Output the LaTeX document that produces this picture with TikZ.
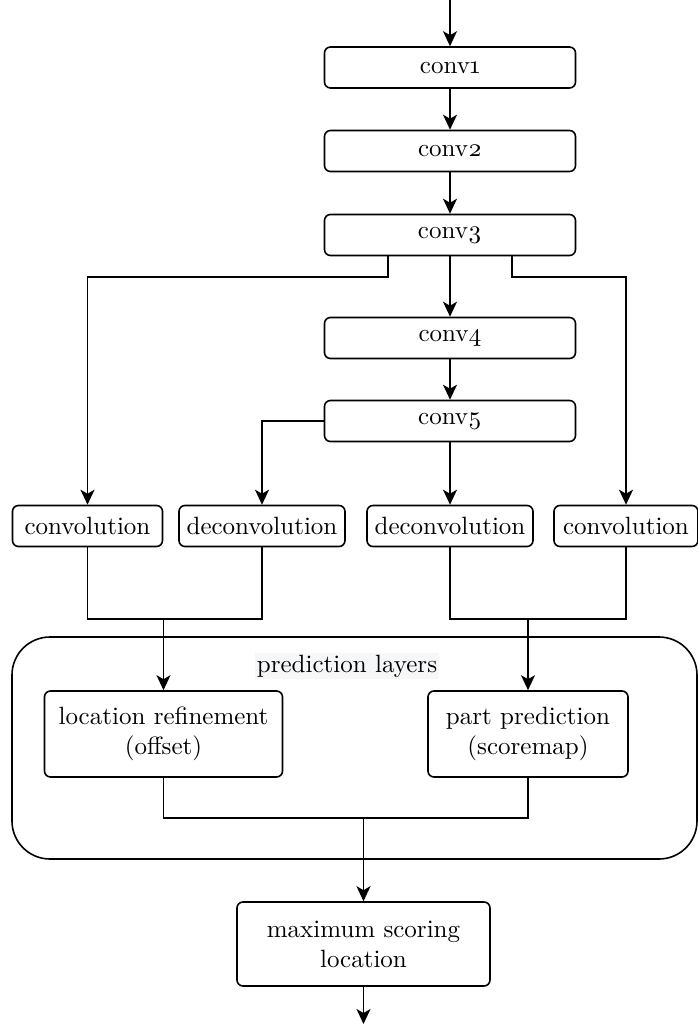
\documentclass[tikz,border=0pt]{standalone}
\usepackage{fontspec}
\setmainfont{lmroman10-regular}[Extension=.otf, Numbers=OldStyle]
\usepackage{tikz}
\usetikzlibrary{arrows.meta}
\definecolor{labelbg}{RGB}{246,247,249}
\newcommand{\diagfont}{\fontsize{25}{30}\selectfont}

\tikzset{
    box/.style={draw, line width=1.6pt, rounded corners=6pt, minimum height=41pt, inner sep=0pt, align=center, font=\diagfont},
    arr/.style={-{Stealth[length=15pt, width=14pt, inset=4pt]}},
    wire/.style={line width=1.6pt}
}

\begin{document}
\begin{tikzpicture}[x=1pt, y=-1pt, font=\diagfont]
    \useasboundingbox (0,0) rectangle (698,1026);

    % Container
    \node[draw, line width=1.6pt, rounded corners=38pt, minimum width=685pt, minimum height=222pt] (pred) at (354.5,748) {};
    \node[fill=labelbg, inner sep=2pt, font=\diagfont] (predlabel) at (347,666) {prediction layers};

    % Backbone
    \node[box, minimum width=251pt] (conv1) at (450,67.5) {conv1};
    \node[box, minimum width=251pt] (conv2) at (450,151) {conv2};
    \node[box, minimum width=251pt] (conv3) at (450,235) {conv3};
    \node[box, minimum width=251pt] (conv4) at (450,338) {conv4};
    \node[box, minimum width=251pt] (conv5) at (450,421) {conv5};

    % Branch layers
    \node[box, minimum width=150pt] (conva) at (87.5,526) {convolution};
    \node[box, minimum width=166pt] (deconva) at (262,526) {deconvolution};
    \node[box, minimum width=166pt] (deconvb) at (450,526) {deconvolution};
    \node[box, minimum width=144pt] (convb) at (626,526) {convolution};

    % Prediction heads
    \node[box, minimum width=238pt, minimum height=86pt] (locref) at (163.5,734) {location refinement\\(offset)};
    \node[box, minimum width=200pt, minimum height=86pt] (partpred) at (528,734) {part prediction\\(scoremap)};

    % Output
    \node[box, minimum width=253pt, minimum height=84pt] (maxscore) at (363.5,944) {maximum scoring\\location};

    % Junction points
    \coordinate (input) at (450,0);
    \coordinate (output) at (363.5,1024);
    \coordinate (la) at (388,277);
    \coordinate (ra) at (512,277);
    \coordinate (ma) at (163.5,619);
    \coordinate (mb) at (528,619);
    \coordinate (mc) at (363.5,818);

    % Backbone arrows
    \draw[wire, arr] (input) -- (conv1.north);
    \draw[wire, arr] (conv1) -- (conv2);
    \draw[wire, arr] (conv2) -- (conv3);
    \draw[wire, arr] (conv3) -- (conv4);
    \draw[wire, arr] (conv4) -- (conv5);

    % Branches
    \draw[wire, arr] (conv3.south -| la) -- (la) -| (conva.north);
    \draw[wire, arr] (conv3.south -| ra) -- (ra) -| (convb.north);
    \draw[wire, arr] (conv5.west) -| (deconva.north);
    \draw[wire, arr] (conv5.south) -- (deconvb.north);

    % Merges
    \draw[wire] (conva.south) |- (ma) -| (deconva.south);
    \draw[wire, arr] (ma) -- (locref.north);
    \draw[wire] (deconvb.south) |- (mb) -| (convb.south);
    \draw[wire, arr] (mb) -- (partpred.north);
    \draw[wire] (locref.south) |- (mc) -| (partpred.south);
    \draw[wire, arr] (mc) -- (maxscore.north);
    \draw[wire, arr] (maxscore.south) -- (output);
\end{tikzpicture}
\end{document}
